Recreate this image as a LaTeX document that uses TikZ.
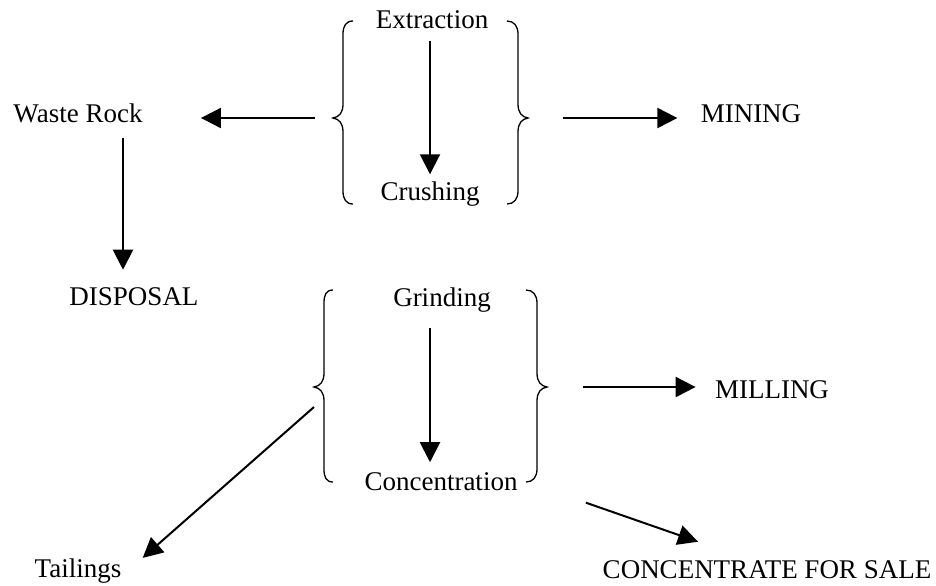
\documentclass[tikz,border=0pt]{standalone}
\usepackage{fontspec}
\setmainfont{Liberation Serif}
\usepackage{tikz}
\usetikzlibrary{arrows.meta}

\begin{document}
\begin{tikzpicture}[x=0.5pt,y=-0.5pt,
    >={Triangle[length=10pt,width=10pt]},
    every node/.style={font=\fontsize{13.5}{16}\selectfont,inner sep=0pt,anchor=base},
    flow/.style={->,line width=1pt},
    brace/.style={line width=0.65pt}]
\useasboundingbox (0,0) rectangle (936,585);

\begin{scope}
    \node (ext) at (432,28) {Extraction};
    \node (crush) at (430,200) {Crushing};
    \node (waste) at (78,122) {Waste Rock};
    \node (mining) at (751,122) {MINING};
    \node (disp) at (134,305) {DISPOSAL};
    \node (grind) at (442,306) {Grinding};
    \node (conc) at (441,490) {Concentration};
    \node (milling) at (772,398) {MILLING};
    \node (tail) at (78,577) {Tailings};
    \node (sale) at (767,578) {CONCENTRATE FOR SALE};
    \end{scope}

% braces
\draw[brace] (353,21) .. controls (346,21) and (343,26) .. (343,34) -- (343,104)
    .. controls (343,113) and (339,117) .. (333,118) .. controls (339,119) and (343,123) .. (343,132)
    -- (343,191) .. controls (343,199) and (346,204) .. (353,204);
\draw[brace] (507,21) .. controls (514,21) and (518,26) .. (518,34) -- (518,104)
    .. controls (518,113) and (522,117) .. (528,118) .. controls (522,119) and (518,123) .. (518,132)
    -- (518,191) .. controls (518,199) and (514,204) .. (507,204);
\draw[brace] (333,290) .. controls (326,290) and (324,295) .. (324,303) -- (324,373)
    .. controls (324,382) and (320,386) .. (314,387) .. controls (320,388) and (324,392) .. (324,401)
    -- (324,469) .. controls (324,477) and (326,482) .. (333,482);
\draw[brace] (526,290) .. controls (533,290) and (537,295) .. (537,303) -- (537,373)
    .. controls (537,382) and (541,386) .. (547,387) .. controls (541,388) and (537,392) .. (537,401)
    -- (537,469) .. controls (537,477) and (533,482) .. (526,482);
\coordinate (mineL) at (333,118);
\coordinate (mineR) at (528,118);
\coordinate (millL) at (314,387);
\coordinate (millR) at (547,387);

\begin{scope}[every path/.style={flow}]
    \draw[shorten <=6pt,shorten >=3.3pt] (ext.south -| crush) -- (crush.north);
    \draw[shorten <=9pt,shorten >=29pt] (mineL) -- (mineL -| waste.east);
    \draw[shorten <=17.5pt,shorten >=11.5pt] (mineR) -- (mineR -| mining.west);
    \draw[shorten <=7.5pt,shorten >=8.5pt] ([xshift=22.5pt]waste.south) -- ([xshift=22.5pt]waste.south |- disp.north);
    \draw[shorten <=8pt,shorten >=4.75pt] ([xshift=-6pt]grind.south) -- ([xshift=-6pt]grind.south |- conc.north);
    \draw[shorten <=18pt,shorten >=9.5pt] (millR) -- (millR -| milling.west);
    \draw ([yshift=-10pt]millL) -- ([xshift=10.5pt]tail.north east);
    \draw ([xshift=34pt,yshift=-6pt]conc.south east) -- ([xshift=-34.5pt,yshift=9pt]sale.north);
    \end{scope}

\end{tikzpicture}
\end{document}
